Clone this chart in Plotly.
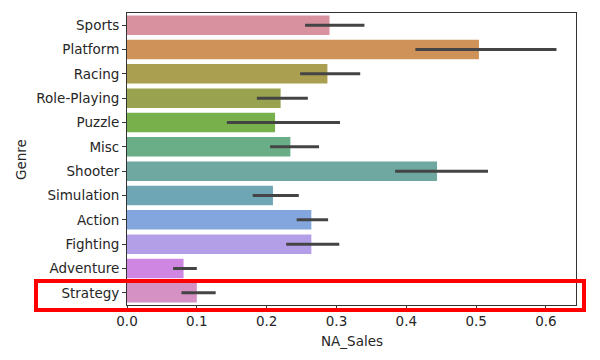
import plotly.graph_objects as go

genres = ["Sports", "Platform", "Racing", "Role-Playing", "Puzzle", "Misc",
          "Shooter", "Simulation", "Action", "Fighting", "Adventure", "Strategy"]
na_sales = [0.290, 0.504, 0.287, 0.220, 0.212, 0.234, 0.444, 0.209, 0.264, 0.264, 0.081, 0.100]
ci_low = [0.255, 0.413, 0.248, 0.186, 0.143, 0.205, 0.384, 0.180, 0.243, 0.228, 0.066, 0.078]
ci_high = [0.340, 0.615, 0.334, 0.259, 0.305, 0.275, 0.517, 0.246, 0.288, 0.304, 0.100, 0.127]
bar_colors = ["#d8929f", "#cf9259", "#aa9e50", "#99a24f", "#78b04c", "#6aae88",
              "#6fa8a0", "#6fa6b5", "#83a6de", "#b39fe8", "#cf86e2", "#d590c4"]
x_ticks = [0.0, 0.1, 0.2, 0.3, 0.4, 0.5, 0.6]

err_plus = [h - v for h, v in zip(ci_high, na_sales)]
err_minus = [v - l for v, l in zip(na_sales, ci_low)]

fig = go.Figure()
fig.add_trace(go.Bar(
    y=genres, x=na_sales, orientation="h", width=0.8,
    marker=dict(color=bar_colors, line=dict(width=0)),
    error_x=dict(type="data", symmetric=False, array=err_plus, arrayminus=err_minus,
                 width=0, thickness=3, color="#444444"),
    showlegend=False,
))

font = dict(family="DejaVu Sans", size=13.5, color="#262626")
# page body has an 8px offset; plot area targeted at x 127..576, y 13..305
OFF = 8
PX0, PX1, PY0, PY1 = 127, 576, 13, 305
W, H = 600, 360
L, T = PX0 - OFF, PY0 - OFF
R, B = W + OFF - PX1, H + OFF - PY1
pw, ph = PX1 - PX0, PY1 - PY0

fig.update_layout(
    width=W, height=H,
    margin=dict(l=L, r=R, t=T, b=B),
    paper_bgcolor="white", plot_bgcolor="white",
    font=font,
    xaxis=dict(range=[0, 0.643], tickvals=x_ticks, tickformat=".1f",
               showgrid=False, zeroline=False, showline=True, mirror=True,
               linecolor="#333333", linewidth=1, ticks="outside", ticklen=4,
               tickcolor="#333333", automargin=False),
    yaxis=dict(categoryorder="array", categoryarray=genres, autorange="reversed",
               showgrid=False, zeroline=False, showline=True, mirror=True,
               linecolor="#333333", linewidth=1, ticks="outside", ticklen=4,
               tickcolor="#333333", automargin=False),
)

def px(x):
    return (x - PX0) / pw

def py(y):
    return (PY1 - y) / ph

fig.add_annotation(text="NA_Sales", xref="paper", yref="paper",
                   x=0.5, y=py(341), showarrow=False, font=font,
                   xanchor="center", yanchor="middle")
fig.add_annotation(text="Genre", xref="paper", yref="paper",
                   x=px(21), y=py(160), showarrow=False, font=font,
                   textangle=-90, xanchor="center", yanchor="middle")

fig.add_shape(type="rect", xref="paper", yref="paper",
              x0=px(36), x1=px(584), y0=py(310), y1=py(281),
              line=dict(color="#ff0000", width=4), fillcolor="rgba(0,0,0,0)")

fig.write_html("out.html")
